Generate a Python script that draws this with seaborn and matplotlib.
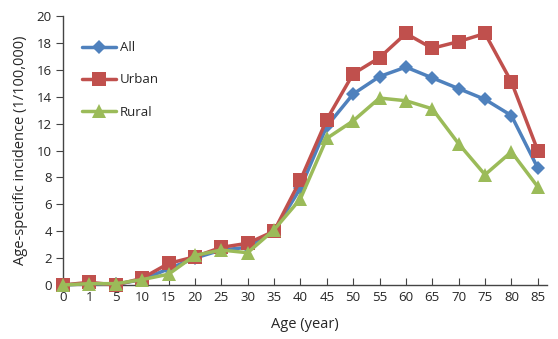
import matplotlib
matplotlib.use("Agg")
import matplotlib.pyplot as plt
import seaborn as sns
import pandas as pd

ages = ["0", "1", "5", "10", "15", "20", "25", "30", "35", "40", "45", "50", "55", "60", "65", "70", "75", "80", "85"]
all_vals = [0.0, 0.1, 0.05, 0.4, 1.2, 2.0, 2.6, 2.8, 4.0, 7.2, 11.8, 14.2, 15.5, 16.2, 15.4, 14.6, 13.8, 12.6, 8.7]
urban_vals = [0.0, 0.2, 0.0, 0.5, 1.6, 2.1, 2.8, 3.1, 4.0, 7.8, 12.3, 15.7, 16.9, 18.7, 17.6, 18.1, 18.7, 15.1, 10.0]
rural_vals = [0.0, 0.1, 0.1, 0.4, 0.8, 2.2, 2.6, 2.4, 4.1, 6.4, 10.9, 12.2, 13.9, 13.7, 13.1, 10.5, 8.2, 9.9, 7.3]
series = ["All", "Urban", "Rural"]

rows = []
for name, vals in zip(series, [all_vals, urban_vals, rural_vals]):
    for i, v in enumerate(vals):
        rows.append({"pos": i, "value": v, "Series": name})
df = pd.DataFrame(rows)

sns.set_style("ticks")
plt.rcParams["font.family"] = ["Open Sans", "DejaVu Sans"]

fig = plt.figure(figsize=(5.58, 3.39), dpi=100)
ax = fig.add_axes([63/558, 1 - 285/339, (547-63)/558, (285-16)/339])

colors = {"All": "#4F81BD", "Urban": "#C0504D", "Rural": "#9BBB59"}
markers = {"All": "D", "Urban": "s", "Rural": "^"}
sizes = {"All": 7.5, "Urban": 10.5, "Rural": 10.5}
for name in series:
    sub = df[df["Series"] == name]
    sns.lineplot(data=sub, x="pos", y="value", ax=ax, color=colors[name],
                 marker=markers[name], markersize=sizes[name], linewidth=2.5,
                 markeredgewidth=0, label=name, clip_on=False, zorder=3)

ax.set_xlim(0, 18.35)
ax.set_ylim(0, 20)
ax.set_xticks(range(len(ages)))
ax.set_xticklabels(ages)
ax.set_yticks(range(0, 21, 2))
ax.tick_params(axis="x", direction="in", length=5, labelsize=9.5, pad=4, color="#444444")
ax.tick_params(axis="y", direction="out", length=5, labelsize=9.5, pad=3, color="#444444")
for s in ["top", "right"]:
    ax.spines[s].set_visible(False)
for s in ["left", "bottom"]:
    ax.spines[s].set_color("#444444")
    ax.spines[s].set_linewidth(1.0)
ax.set_xlabel("Age (year)", fontsize=10.5, labelpad=10)
ax.set_ylabel("Age-specific incidence (1/100,000)", fontsize=10.5, labelpad=6)

leg = ax.legend(loc="upper left", bbox_to_anchor=(0.015, 0.95), frameon=False,
                fontsize=9.5, handlelength=2.6, labelspacing=1.45, handletextpad=0.25)

fig.savefig("out.png", dpi=100)
